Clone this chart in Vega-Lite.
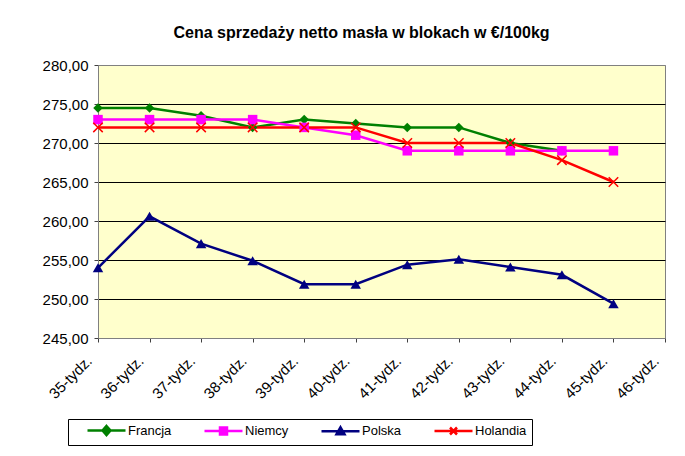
{
  "$schema": "https://vega.github.io/schema/vega-lite/v6.json",
  "width": 567,
  "height": 273,
  "autosize": {"type": "none"},
  "padding": {"left": 98, "top": 65, "right": 20, "bottom": 118},
  "background": "white",
  "config": {"view": {"fill": "#FFFFCC", "stroke": "#808080", "strokeWidth": 1}},
  "title": {"text": "Cena sprzedaży netto masła w blokach w €/100kg", "font": "Liberation Sans", "fontSize": 16, "fontWeight": "bold", "color": "black", "anchor": "middle", "frame": "group", "dx": -20, "baseline": "alphabetic", "offset": 4},
  "data": {"values": [
    {"week": "35-tydz.", "country": "Francja", "value": 274.5},
    {"week": "36-tydz.", "country": "Francja", "value": 274.5},
    {"week": "37-tydz.", "country": "Francja", "value": 273.5},
    {"week": "38-tydz.", "country": "Francja", "value": 272},
    {"week": "39-tydz.", "country": "Francja", "value": 273},
    {"week": "40-tydz.", "country": "Francja", "value": 272.5},
    {"week": "41-tydz.", "country": "Francja", "value": 272},
    {"week": "42-tydz.", "country": "Francja", "value": 272},
    {"week": "43-tydz.", "country": "Francja", "value": 270},
    {"week": "44-tydz.", "country": "Francja", "value": 269},
    {"week": "35-tydz.", "country": "Niemcy", "value": 273},
    {"week": "36-tydz.", "country": "Niemcy", "value": 273},
    {"week": "37-tydz.", "country": "Niemcy", "value": 273},
    {"week": "38-tydz.", "country": "Niemcy", "value": 273},
    {"week": "39-tydz.", "country": "Niemcy", "value": 272},
    {"week": "40-tydz.", "country": "Niemcy", "value": 271},
    {"week": "41-tydz.", "country": "Niemcy", "value": 269},
    {"week": "42-tydz.", "country": "Niemcy", "value": 269},
    {"week": "43-tydz.", "country": "Niemcy", "value": 269},
    {"week": "44-tydz.", "country": "Niemcy", "value": 269},
    {"week": "45-tydz.", "country": "Niemcy", "value": 269},
    {"week": "35-tydz.", "country": "Polska", "value": 254.0},
    {"week": "36-tydz.", "country": "Polska", "value": 260.6},
    {"week": "37-tydz.", "country": "Polska", "value": 257.1},
    {"week": "38-tydz.", "country": "Polska", "value": 254.9},
    {"week": "39-tydz.", "country": "Polska", "value": 251.9},
    {"week": "40-tydz.", "country": "Polska", "value": 251.9},
    {"week": "41-tydz.", "country": "Polska", "value": 254.4},
    {"week": "42-tydz.", "country": "Polska", "value": 255.1},
    {"week": "43-tydz.", "country": "Polska", "value": 254.1},
    {"week": "44-tydz.", "country": "Polska", "value": 253.1},
    {"week": "45-tydz.", "country": "Polska", "value": 249.4},
    {"week": "35-tydz.", "country": "Holandia", "value": 272},
    {"week": "36-tydz.", "country": "Holandia", "value": 272},
    {"week": "37-tydz.", "country": "Holandia", "value": 272},
    {"week": "38-tydz.", "country": "Holandia", "value": 272},
    {"week": "39-tydz.", "country": "Holandia", "value": 272},
    {"week": "40-tydz.", "country": "Holandia", "value": 272},
    {"week": "41-tydz.", "country": "Holandia", "value": 270},
    {"week": "42-tydz.", "country": "Holandia", "value": 270},
    {"week": "43-tydz.", "country": "Holandia", "value": 270},
    {"week": "44-tydz.", "country": "Holandia", "value": 267.8},
    {"week": "45-tydz.", "country": "Holandia", "value": 265}
  ]},
  "encoding": {
    "x": {
      "field": "week", "type": "ordinal",
      "scale": {"type": "point", "padding": 0, "domain": ["35-tydz.", "36-tydz.", "37-tydz.", "38-tydz.", "39-tydz.", "40-tydz.", "41-tydz.", "42-tydz.", "43-tydz.", "44-tydz.", "45-tydz.", "46-tydz."]},
      "axis": {"title": null, "labelAngle": -45, "labelAlign": "right", "labelBaseline": "middle", "labelOffset": -9, "labelPadding": 16, "tickSize": 4, "labelFontSize": 15, "labelFont": "Liberation Sans", "labelColor": "black", "domainColor": "#808080", "tickColor": "#404040", "grid": false, "labelOverlap": false, "labelBound": false}
    },
    "y": {
      "field": "value", "type": "quantitative",
      "scale": {"domain": [245, 280], "nice": false, "zero": false},
      "axis": {"title": null, "values": [245, 250, 255, 260, 265, 270, 275, 280], "labelExpr": "replace(format(datum.value, '.2f'), '.', ',')", "tickSize": 4, "labelPadding": 6, "labelFontSize": 15, "labelFont": "Liberation Sans", "labelColor": "black", "grid": true, "gridColor": {"condition": {"test": "datum.value == 245 || datum.value == 280", "value": "#808080"}, "value": "black"}, "gridOpacity": 1, "domainColor": "#808080", "tickColor": "#404040"}
    },
    "color": {
      "field": "country", "type": "nominal",
      "scale": {"domain": ["Francja", "Niemcy", "Polska", "Holandia"], "range": ["#008000", "#FF00FF", "#000080", "#FF0000"]},
      "legend": null
    }
  },
  "resolve": {"legend": {"color": "independent", "stroke": "independent", "shape": "independent"}},
  "layer": [
    {"mark": {"type": "line", "strokeWidth": 2.5}},
    {"transform": [{"filter": "datum.country === 'Francja'"}], "mark": {"type": "point", "shape": "diamond", "filled": true, "size": 90, "opacity": 1}},
    {"transform": [{"filter": "datum.country === 'Niemcy'"}], "mark": {"type": "point", "shape": "square", "filled": true, "size": 90, "opacity": 1}},
    {"transform": [{"filter": "datum.country === 'Polska'"}], "mark": {"type": "point", "shape": "triangle-up", "filled": true, "size": 110, "opacity": 1}},
    {"transform": [{"filter": "datum.country === 'Holandia'"}], "mark": {"type": "point", "shape": "M-1,-1L1,1M-1,1L1,-1", "filled": false, "size": 90, "strokeWidth": 1.5, "opacity": 1}},
    {
      "transform": [{"filter": "datum.value < 0"}],
      "mark": {"type": "point", "filled": true, "size": 100, "opacity": 1, "strokeWidth": 2.5},
      "encoding": {
        "color": {
          "field": "country", "type": "nominal",
          "scale": {"domain": ["Francja", "Niemcy", "Polska", "Holandia"], "range": ["#008000", "#FF00FF", "#000080", "#FF0000"]},
          "legend": {"title": null, "orient": "none", "legendX": -30, "legendY": 354, "direction": "horizontal", "columnPadding": 18, "padding": 5, "strokeColor": "black", "fillColor": "white", "labelFont": "Liberation Sans", "labelFontSize": 13, "labelColor": "black", "labelOffset": 42, "labelLimit": 300, "symbolSize": 100, "symbolStrokeWidth": 2.5, "symbolOffset": 0, "cornerRadius": 0}
        },
        "stroke": {
          "field": "country", "type": "nominal",
          "scale": {"domain": ["Francja", "Niemcy", "Polska", "Holandia"], "range": ["#008000", "#FF00FF", "#000080", "#FF0000"]},
          "legend": {"title": null, "orient": "none", "legendX": -30, "legendY": 354, "direction": "horizontal", "columnPadding": 18, "padding": 5, "strokeColor": "black", "fillColor": "white", "labelFont": "Liberation Sans", "labelFontSize": 13, "labelColor": "black", "labelOffset": 42, "labelLimit": 300, "symbolSize": 100, "symbolStrokeWidth": 2.5, "symbolOffset": 0, "cornerRadius": 0}
        },
        "shape": {
          "field": "country", "type": "nominal",
          "scale": {"domain": ["Francja", "Niemcy", "Polska", "Holandia"], "range": ["M1.6,0H9.2M5.4,-0.9L6.2,0L5.4,0.9L4.6,0Z", "M1.6,0H9.2M4.7,-0.7H6.1V0.7H4.7Z", "M1.6,0H9.2M5.4,-0.8L6.2,0.6H4.6Z", "M1.6,0H9.2M4.7,-0.7L6.1,0.7M4.7,0.7L6.1,-0.7"]},
          "legend": {"title": null, "orient": "none", "legendX": -30, "legendY": 354, "direction": "horizontal", "columnPadding": 18, "padding": 5, "strokeColor": "black", "fillColor": "white", "labelFont": "Liberation Sans", "labelFontSize": 13, "labelColor": "black", "labelOffset": 42, "labelLimit": 300, "symbolSize": 100, "symbolStrokeWidth": 2.5, "symbolOffset": 0, "cornerRadius": 0}
        }
      }
    }
  ]
}
